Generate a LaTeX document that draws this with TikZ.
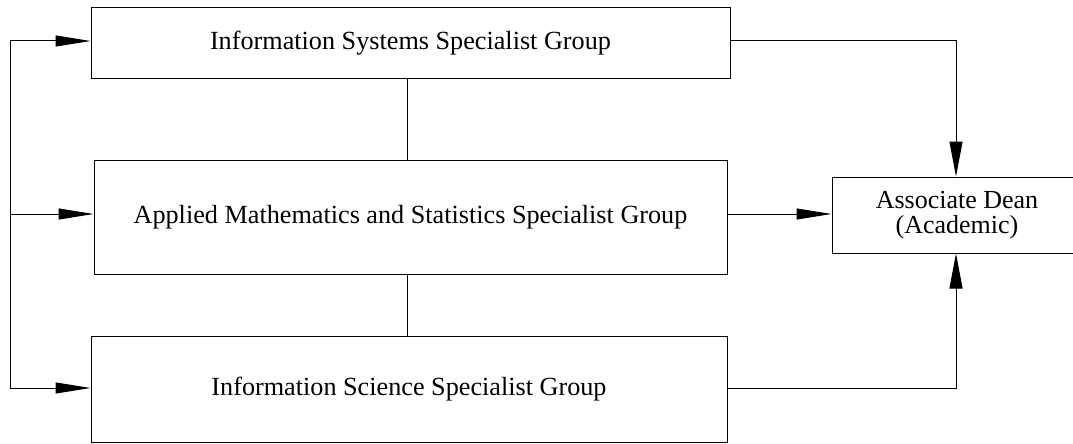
\documentclass[tikz,border=0pt]{standalone}
\usepackage{fontspec}
\setmainfont{Liberation Serif}
\usetikzlibrary{arrows.meta}
\begin{document}
\begin{tikzpicture}[x=1pt,y=-1pt,
  box/.style={draw, line width=1pt, inner sep=0pt, font=\fontsize{26.2}{30}\selectfont},
  conn/.style={line width=1pt},
  arr/.style={line width=1pt, -{Triangle[length=35pt,width=11pt]}},
  varr/.style={line width=1pt, -{Triangle[length=35pt,width=13pt]}}]
\useasboundingbox (0,0) rectangle (1073,444);
\node[box, minimum width=639pt, minimum height=70pt] (isg) at (410.5,43) {Information Systems Specialist Group};
\node[box, minimum width=633pt, minimum height=114pt] (ams) at (410.5,217) {Applied Mathematics and Statistics Specialist Group};
\node[box, minimum width=636pt, minimum height=106pt] (iss) at (409,389) {Information Science Specialist Group};
\node[box, minimum width=248pt, minimum height=76pt] (ad) at (956,215) {};
\node[font=\fontsize{26}{25}\selectfont, align=center] (adtext) at (957,215) {Associate Dean\\(Academic)};
\coordinate (lt) at (10,41);
\coordinate (lb) at (10,388);
\coordinate (lm) at (10,214);
\draw[conn] (lb) -- (lt);
\draw[arr] (lt) -- (isg.west |- lt);
\draw[arr] (lm) -- (ams.west |- lm);
\draw[arr] (lb) -- (iss.west |- lb);
\draw[conn] (isg.south -| 407,0) -- (ams.north -| 407,0);
\draw[conn] (ams.south -| 407,0) -- (iss.north -| 407,0);
\draw[varr] (isg.east |- 0,41) -| (ad.north);
\draw[arr] (ams.east |- 0,214) -- (ad.west |- 0,214);
\draw[varr] (iss.east |- 0,388) -| (ad.south);
\end{tikzpicture}
\end{document}
